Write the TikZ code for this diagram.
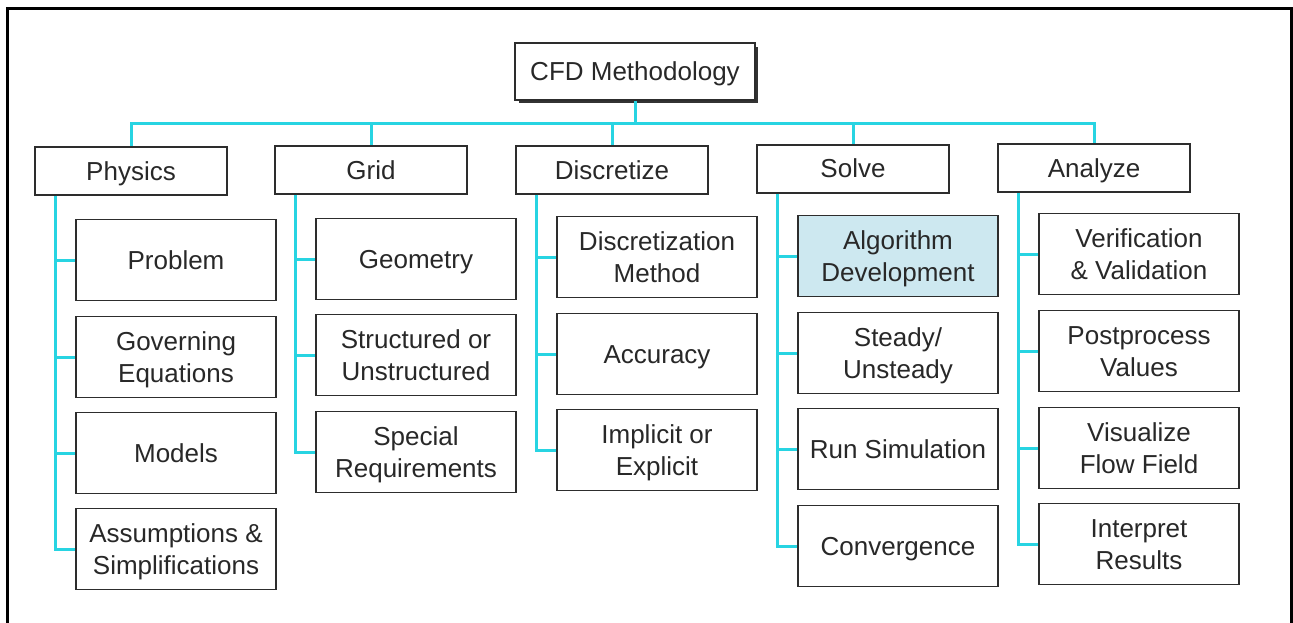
\documentclass[tikz,border=0pt]{standalone}
\usepackage{fontspec}
\setmainfont{Liberation Sans}
\definecolor{cyanline}{RGB}{40,212,226}
\definecolor{boxline}{RGB}{45,45,45}
\definecolor{txt}{RGB}{40,40,40}
\definecolor{algofill}{RGB}{205,232,240}
\newcommand{\lnS}[1]{#1\rule[-7pt]{0pt}{32pt}}
\begin{document}
\begin{tikzpicture}[x=1pt,y=-1pt,
  box/.style={draw=boxline,line width=1.6pt,fill=white,text=txt,align=center,inner sep=0pt,
    font=\fontsize{26}{32}\selectfont},
  topbox/.style={box,minimum width=240pt,minimum height=57pt},
  catbox/.style={box,minimum width=192pt,minimum height=48pt},
  subbox/.style={box,minimum width=200pt,minimum height=81pt},
  conn/.style={draw=cyanline,line width=3pt,line cap=butt,line join=miter},
  frame/.style={draw=black,line width=3pt}]
\useasboundingbox (0,0) rectangle (1293,623);
\fill[white] (0,0) rectangle (1293,623);
\draw[frame] (7,623) -- (7,9) -- (1291,9) -- (1291,623);

% top
\fill[black!80] (519,47) rectangle (758,103);
\node[topbox] (cfd) at (635,71.5) {\lnS{CFD Methodology}};

% categories
\node[catbox] (phys) at (131,171) {\lnS{Physics}};
\node[catbox] (grid) at (371,170) {\lnS{Grid}};
\node[catbox] (disc) at (612,170) {\lnS{Discretize}};
\node[catbox] (solv) at (853,169) {\lnS{Solve}};
\node[catbox] (anal) at (1094,168) {\lnS{Analyze}};

\coordinate (bus) at (0,124);

% physics children
\node[subbox] (p1) at (176,260) {\lnS{Problem}};
\node[subbox] (p2) at (176,357) {\lnS{Governing}\\\lnS{Equations}};
\node[subbox] (p3) at (176,453) {\lnS{Models}};
\node[subbox] (p4) at (176,549) {\lnS{Assumptions \&}\\\lnS{Simplifications}};
% grid children
\node[subbox] (g1) at (416,259) {\lnS{Geometry}};
\node[subbox] (g2) at (416,355) {\lnS{Structured or}\\\lnS{Unstructured}};
\node[subbox] (g3) at (416,452) {\lnS{Special}\\\lnS{Requirements}};
% discretize children
\node[subbox] (d1) at (657,257) {\lnS{Discretization}\\\lnS{Method}};
\node[subbox] (d2) at (657,354) {\lnS{Accuracy}};
\node[subbox] (d3) at (657,450) {\lnS{Implicit or}\\\lnS{Explicit}};
% solve children
\node[subbox,fill=algofill] (s1) at (898,256) {\lnS{Algorithm}\\\lnS{Development}};
\node[subbox] (s2) at (898,353) {\lnS{Steady/}\\\lnS{Unsteady}};
\node[subbox] (s3) at (898,449) {\lnS{Run Simulation}};
\node[subbox] (s4) at (898,546) {\lnS{Convergence}};
% analyze children
\node[subbox] (a1) at (1139,254) {\lnS{Verification}\\\lnS{\& Validation}};
\node[subbox] (a2) at (1139,351) {\lnS{Postprocess}\\\lnS{Values}};
\node[subbox] (a3) at (1139,448) {\lnS{Visualize}\\\lnS{Flow Field}};
\node[subbox] (a4) at (1139,544) {\lnS{Interpret}\\\lnS{Results}};

% bus connectors
\draw[conn] (cfd.south) -- (cfd.south |- bus);
\draw[conn] (phys.north) -- (phys.north |- bus) -- (anal.north |- bus) -- (anal.north);
\draw[conn] (grid.north) -- (grid.north |- bus);
\draw[conn] (disc.north) -- (disc.north |- bus);
\draw[conn] (solv.north) -- (solv.north |- bus);

% trunk connectors
\foreach \c in {p1,p2,p3,p4} \draw[conn] ([xshift=-76pt]phys.south) |- (\c.west);
\foreach \c in {g1,g2,g3} \draw[conn] ([xshift=-76pt]grid.south) |- (\c.west);
\foreach \c in {d1,d2,d3} \draw[conn] ([xshift=-76pt]disc.south) |- (\c.west);
\foreach \c in {s1,s2,s3,s4} \draw[conn] ([xshift=-76pt]solv.south) |- (\c.west);
\foreach \c in {a1,a2,a3,a4} \draw[conn] ([xshift=-76pt]anal.south) |- (\c.west);
\end{tikzpicture}
\end{document}
